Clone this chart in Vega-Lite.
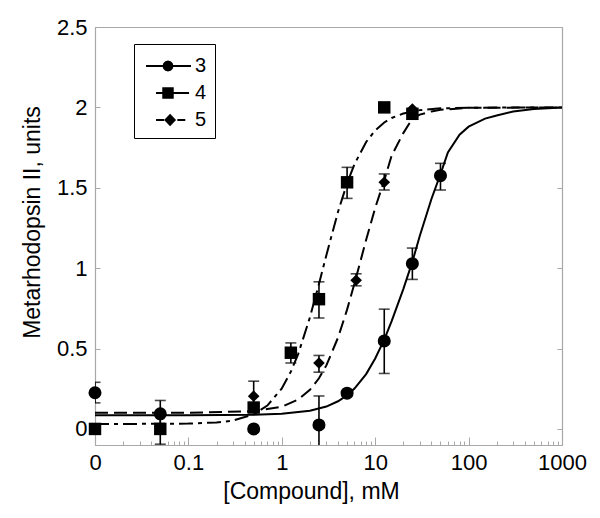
{
  "$schema": "https://vega.github.io/schema/vega-lite/v6.json",
  "width": 467,
  "height": 418,
  "autosize": {"type": "none"},
  "padding": {"left": 95, "top": 27, "right": 38, "bottom": 73},
  "background": "white",
  "config": {
    "font": "Liberation Sans",
    "view": {"stroke": "#a8a8a8", "strokeWidth": 1},
    "axis": {"domainColor": "#a8a8a8", "tickColor": "#a8a8a8", "labelColor": "black", "titleColor": "black", "grid": false, "labelFont": "Liberation Sans", "titleFont": "Liberation Sans", "titleFontWeight": "normal", "domainWidth": 1.2, "tickWidth": 1}
  },
  "datasets": {
    "pts": [
      {"s": "3", "x": 0.01, "y": 0.225, "lo": 0.162, "hi": 0.29},
      {"s": "3", "x": 0.05, "y": 0.094, "lo": 0.01, "hi": 0.177},
      {"s": "3", "x": 0.5, "y": 0.0, "lo": null, "hi": null},
      {"s": "3", "x": 2.5, "y": 0.025, "lo": -0.16, "hi": 0.205},
      {"s": "3", "x": 5, "y": 0.222, "lo": 0.205, "hi": 0.24},
      {"s": "3", "x": 12.5, "y": 0.547, "lo": 0.345, "hi": 0.745},
      {"s": "3", "x": 25, "y": 1.028, "lo": 0.93, "hi": 1.125},
      {"s": "3", "x": 50, "y": 1.575, "lo": 1.486, "hi": 1.652},
      {"s": "4", "x": 0.01, "y": 0.0, "lo": null, "hi": null},
      {"s": "4", "x": 0.05, "y": 0.0, "lo": -0.095, "hi": 0.095},
      {"s": "4", "x": 0.5, "y": 0.133, "lo": null, "hi": null},
      {"s": "4", "x": 1.25, "y": 0.474, "lo": 0.41, "hi": 0.535},
      {"s": "4", "x": 2.5, "y": 0.807, "lo": 0.69, "hi": 0.915},
      {"s": "4", "x": 5, "y": 1.534, "lo": 1.434, "hi": 1.627},
      {"s": "4", "x": 12.5, "y": 2.0, "lo": null, "hi": null},
      {"s": "4", "x": 25, "y": 1.96, "lo": null, "hi": null},
      {"s": "5", "x": 0.05, "y": 0.1, "lo": null, "hi": null},
      {"s": "5", "x": 0.5, "y": 0.204, "lo": 0.11, "hi": 0.297},
      {"s": "5", "x": 2.5, "y": 0.41, "lo": 0.353, "hi": 0.457},
      {"s": "5", "x": 6.25, "y": 0.925, "lo": 0.89, "hi": 0.965},
      {"s": "5", "x": 12.5, "y": 1.534, "lo": 1.486, "hi": 1.586},
      {"s": "5", "x": 25, "y": 1.99, "lo": null, "hi": null}
    ],
    "fit": [
      {"s": "3", "x": 0.01, "y": 0.085}, {"s": "3", "x": 0.1, "y": 0.085}, {"s": "3", "x": 0.5, "y": 0.088},
      {"s": "3", "x": 1, "y": 0.094}, {"s": "3", "x": 2, "y": 0.113}, {"s": "3", "x": 3, "y": 0.139},
      {"s": "3", "x": 4, "y": 0.172}, {"s": "3", "x": 5, "y": 0.209}, {"s": "3", "x": 6, "y": 0.251},
      {"s": "3", "x": 8, "y": 0.341}, {"s": "3", "x": 10, "y": 0.438}, {"s": "3", "x": 12.5, "y": 0.555},
      {"s": "3", "x": 15, "y": 0.67}, {"s": "3", "x": 20, "y": 0.87}, {"s": "3", "x": 25, "y": 1.04},
      {"s": "3", "x": 30, "y": 1.2}, {"s": "3", "x": 40, "y": 1.43}, {"s": "3", "x": 50, "y": 1.585},
      {"s": "3", "x": 60, "y": 1.72}, {"s": "3", "x": 80, "y": 1.83}, {"s": "3", "x": 100, "y": 1.88},
      {"s": "3", "x": 150, "y": 1.93}, {"s": "3", "x": 200, "y": 1.95}, {"s": "3", "x": 300, "y": 1.975},
      {"s": "3", "x": 500, "y": 1.99}, {"s": "3", "x": 1000, "y": 2.0},
      {"s": "4", "x": 0.01, "y": 0.03}, {"s": "4", "x": 0.1, "y": 0.033}, {"s": "4", "x": 0.2, "y": 0.04},
      {"s": "4", "x": 0.3, "y": 0.052}, {"s": "4", "x": 0.5, "y": 0.09}, {"s": "4", "x": 0.7, "y": 0.145},
      {"s": "4", "x": 1, "y": 0.252}, {"s": "4", "x": 1.25, "y": 0.356}, {"s": "4", "x": 1.5, "y": 0.467},
      {"s": "4", "x": 2, "y": 0.694}, {"s": "4", "x": 2.5, "y": 0.902}, {"s": "4", "x": 3, "y": 1.081},
      {"s": "4", "x": 4, "y": 1.351}, {"s": "4", "x": 5, "y": 1.528}, {"s": "4", "x": 6, "y": 1.647},
      {"s": "4", "x": 8, "y": 1.785}, {"s": "4", "x": 10, "y": 1.857}, {"s": "4", "x": 12.5, "y": 1.906},
      {"s": "4", "x": 15, "y": 1.934}, {"s": "4", "x": 20, "y": 1.962}, {"s": "4", "x": 30, "y": 1.983},
      {"s": "4", "x": 50, "y": 1.994}, {"s": "4", "x": 100, "y": 1.998}, {"s": "4", "x": 1000, "y": 2.0},
      {"s": "5", "x": 0.01, "y": 0.1}, {"s": "5", "x": 0.1, "y": 0.1}, {"s": "5", "x": 0.5, "y": 0.11},
      {"s": "5", "x": 1, "y": 0.138}, {"s": "5", "x": 1.5, "y": 0.183}, {"s": "5", "x": 2, "y": 0.243},
      {"s": "5", "x": 2.5, "y": 0.315}, {"s": "5", "x": 3, "y": 0.395}, {"s": "5", "x": 4, "y": 0.568},
      {"s": "5", "x": 5, "y": 0.742}, {"s": "5", "x": 6, "y": 0.905}, {"s": "5", "x": 7, "y": 1.05},
      {"s": "5", "x": 8, "y": 1.176}, {"s": "5", "x": 10, "y": 1.375}, {"s": "5", "x": 12.5, "y": 1.546},
      {"s": "5", "x": 15, "y": 1.7}, {"s": "5", "x": 20, "y": 1.84}, {"s": "5", "x": 25, "y": 1.93},
      {"s": "5", "x": 30, "y": 1.955}, {"s": "5", "x": 40, "y": 1.975}, {"s": "5", "x": 50, "y": 1.985},
      {"s": "5", "x": 100, "y": 1.997}, {"s": "5", "x": 1000, "y": 2.0}
    ]
  },
  "layer": [
    {
      "layer": [
        {
          "data": {"name": "pts"},
          "mark": {"type": "point", "filled": true, "color": "black", "size": 16},
          "encoding": {
            "x": {
              "field": "x", "type": "quantitative",
              "scale": {"type": "log", "domain": [0.01, 1000], "nice": false},
              "axis": {
                "title": "[Compound], mM",
                "values": [0.01,0.02,0.03,0.04,0.05,0.06,0.07,0.08,0.09,0.1,0.2,0.3,0.4,0.5,0.6,0.7,0.8,0.9,1,2,3,4,5,6,7,8,9,10,20,30,40,50,60,70,80,90,100,200,300,400,500,600,700,800,900,1000],
                "labelExpr": "datum.value < 0.011 ? '0' : (abs(log(datum.value)/LN10 - round(log(datum.value)/LN10)) < 0.001 ? format(datum.value, '~g') : '')",
                "tickSize": {"condition": {"test": "abs(log(datum.value)/LN10 - round(log(datum.value)/LN10)) < 0.001", "value": -8}, "value": -4},
                "labelOverlap": false,
                "labelBound": false,
                "labelFlush": false,
                "labelFontSize": 22,
                "labelPadding": 15,
                "titleFontSize": 23,
                "titlePadding": 3,
                "titleX": 216
              }
            },
            "y": {
              "field": "y", "type": "quantitative",
              "scale": {"domain": [-0.1, 2.5], "nice": false, "zero": false},
              "axis": {
                "title": "Metarhodopsin II, units",
                "values": [0, 0.5, 1, 1.5, 2, 2.5],
                "format": "~g",
                "tickSize": -5,
                "labelFontSize": 22,
                "labelPadding": 13,
                "titleFontSize": 23,
                "titlePadding": 12,
                "titleY": 195
              }
            },
            "shape": {
              "field": "s", "type": "nominal",
              "scale": {"domain": ["3", "4", "5"], "range": [
                "M-1.69,-0.077 L1.77,-0.077 L1.77,0.077 L-1.69,0.077 Z M0.42,0 L0.364,0.21 L0.21,0.364 L0,0.42 L-0.21,0.364 L-0.364,0.21 L-0.42,0 L-0.364,-0.21 L-0.21,-0.364 L0,-0.42 L0.21,-0.364 L0.364,-0.21 Z",
                "M-0.92,-0.077 L1.62,-0.077 L1.62,0.077 L-0.92,0.077 Z M-0.44,-0.44 L0.44,-0.44 L0.44,0.44 L-0.44,0.44 Z",
                "M-0.92,-0.077 L-0.3,-0.077 L-0.3,0.077 L-0.92,0.077 Z M0.72,-0.077 L1.33,-0.077 L1.33,0.077 L0.72,0.077 Z M-0.3,0 L0.16,-0.48 L0.62,0 L0.16,0.48 Z"
              ]},
              "legend": {
                "title": null,
                "orient": "none",
                "legendX": 39,
                "legendY": 17,
                "padding": 8,
                "strokeColor": "black",
                "fillColor": "white",
                "symbolSize": 676,
                "symbolOffset": 12,
                "symbolFillColor": "black",
                "symbolOpacity": 1,
                "labelOffset": 13,
                "labelFontSize": 20,
                "labelFont": "Liberation Sans",
                "labelColor": "black",
                "rowPadding": 3,
                "encode": {"symbols": {"update": {"size": {"value": 676}, "fill": {"value": "black"}, "opacity": {"value": 1}, "fillOpacity": {"value": 1}}}}
              }
            }
          }
        },
        {
          "data": {"name": "fit"},
          "transform": [{"filter": "datum.s == '3'"}],
          "mark": {"type": "line", "color": "black", "strokeWidth": 2},
          "encoding": {
            "x": {"field": "x", "type": "quantitative", "scale": {"type": "log", "domain": [0.01, 1000], "nice": false}, "title": "[Compound], mM"},
            "y": {"field": "y", "type": "quantitative", "scale": {"domain": [-0.1, 2.5], "nice": false, "zero": false}, "title": "Metarhodopsin II, units"}
          }
        },
        {
          "data": {"name": "fit"},
          "transform": [{"filter": "datum.s == '4'"}],
          "mark": {"type": "line", "color": "black", "strokeWidth": 2, "strokeDash": [14, 5, 4, 5]},
          "encoding": {
            "x": {"field": "x", "type": "quantitative", "scale": {"type": "log", "domain": [0.01, 1000], "nice": false}, "title": "[Compound], mM"},
            "y": {"field": "y", "type": "quantitative", "scale": {"domain": [-0.1, 2.5], "nice": false, "zero": false}, "title": "Metarhodopsin II, units"}
          }
        },
        {
          "data": {"name": "fit"},
          "transform": [{"filter": "datum.s == '5'"}],
          "mark": {"type": "line", "color": "black", "strokeWidth": 2, "strokeDash": [13, 6]},
          "encoding": {
            "x": {"field": "x", "type": "quantitative", "scale": {"type": "log", "domain": [0.01, 1000], "nice": false}, "title": "[Compound], mM"},
            "y": {"field": "y", "type": "quantitative", "scale": {"domain": [-0.1, 2.5], "nice": false, "zero": false}, "title": "Metarhodopsin II, units"}
          }
        },
        {
          "data": {"name": "pts"},
          "transform": [{"filter": "isValid(datum.lo)"}],
          "mark": {"type": "rule", "color": "black", "strokeWidth": 1.6, "clip": true},
          "encoding": {
            "x": {"field": "x", "type": "quantitative", "scale": {"type": "log", "domain": [0.01, 1000], "nice": false}, "title": "[Compound], mM"},
            "y": {"field": "lo", "type": "quantitative", "scale": {"domain": [-0.1, 2.5], "nice": false, "zero": false}, "title": "Metarhodopsin II, units"},
            "y2": {"field": "hi"}
          }
        },
        {
          "data": {"name": "pts"},
          "transform": [{"filter": "isValid(datum.lo)"}],
          "mark": {"type": "tick", "orient": "horizontal", "size": 11, "thickness": 1.6, "color": "black", "clip": true},
          "encoding": {
            "x": {"field": "x", "type": "quantitative", "scale": {"type": "log", "domain": [0.01, 1000], "nice": false}, "title": "[Compound], mM"},
            "y": {"field": "lo", "type": "quantitative", "scale": {"domain": [-0.1, 2.5], "nice": false, "zero": false}, "title": "Metarhodopsin II, units"}
          }
        },
        {
          "data": {"name": "pts"},
          "transform": [{"filter": "isValid(datum.hi)"}],
          "mark": {"type": "tick", "orient": "horizontal", "size": 11, "thickness": 1.6, "color": "black", "clip": true},
          "encoding": {
            "x": {"field": "x", "type": "quantitative", "scale": {"type": "log", "domain": [0.01, 1000], "nice": false}, "title": "[Compound], mM"},
            "y": {"field": "hi", "type": "quantitative", "scale": {"domain": [-0.1, 2.5], "nice": false, "zero": false}, "title": "Metarhodopsin II, units"}
          }
        },
        {
          "data": {"name": "pts"},
          "transform": [{"filter": "datum.s == '3'"}],
          "mark": {"type": "point", "shape": "circle", "size": 170, "filled": true, "color": "black", "opacity": 1},
          "encoding": {
            "x": {"field": "x", "type": "quantitative", "scale": {"type": "log", "domain": [0.01, 1000], "nice": false}, "title": "[Compound], mM"},
            "y": {"field": "y", "type": "quantitative", "scale": {"domain": [-0.1, 2.5], "nice": false, "zero": false}, "title": "Metarhodopsin II, units"}
          }
        },
        {
          "data": {"name": "pts"},
          "transform": [{"filter": "datum.s == '4'"}],
          "mark": {"type": "point", "shape": "square", "size": 155, "filled": true, "color": "black", "opacity": 1},
          "encoding": {
            "x": {"field": "x", "type": "quantitative", "scale": {"type": "log", "domain": [0.01, 1000], "nice": false}, "title": "[Compound], mM"},
            "y": {"field": "y", "type": "quantitative", "scale": {"domain": [-0.1, 2.5], "nice": false, "zero": false}, "title": "Metarhodopsin II, units"}
          }
        },
        {
          "data": {"name": "pts"},
          "transform": [{"filter": "datum.s == '5'"}],
          "mark": {"type": "point", "shape": "diamond", "size": 135, "filled": true, "color": "black", "opacity": 1},
          "encoding": {
            "x": {"field": "x", "type": "quantitative", "scale": {"type": "log", "domain": [0.01, 1000], "nice": false}, "title": "[Compound], mM"},
            "y": {"field": "y", "type": "quantitative", "scale": {"domain": [-0.1, 2.5], "nice": false, "zero": false}, "title": "Metarhodopsin II, units"}
          }
        }
      ]
    },
    {
      "data": {"name": "pts"},
      "mark": {"type": "point", "opacity": 0},
      "encoding": {
        "y": {
          "field": "y", "type": "quantitative",
          "scale": {"domain": [-0.1, 2.5], "nice": false, "zero": false},
          "axis": {"orient": "right", "labels": false, "title": null, "values": [0, 0.5, 1, 1.5, 2, 2.5], "tickSize": -5, "domainColor": "#a8a8a8"}
        }
      }
    }
  ],
  "resolve": {"axis": {"y": "independent"}}
}
